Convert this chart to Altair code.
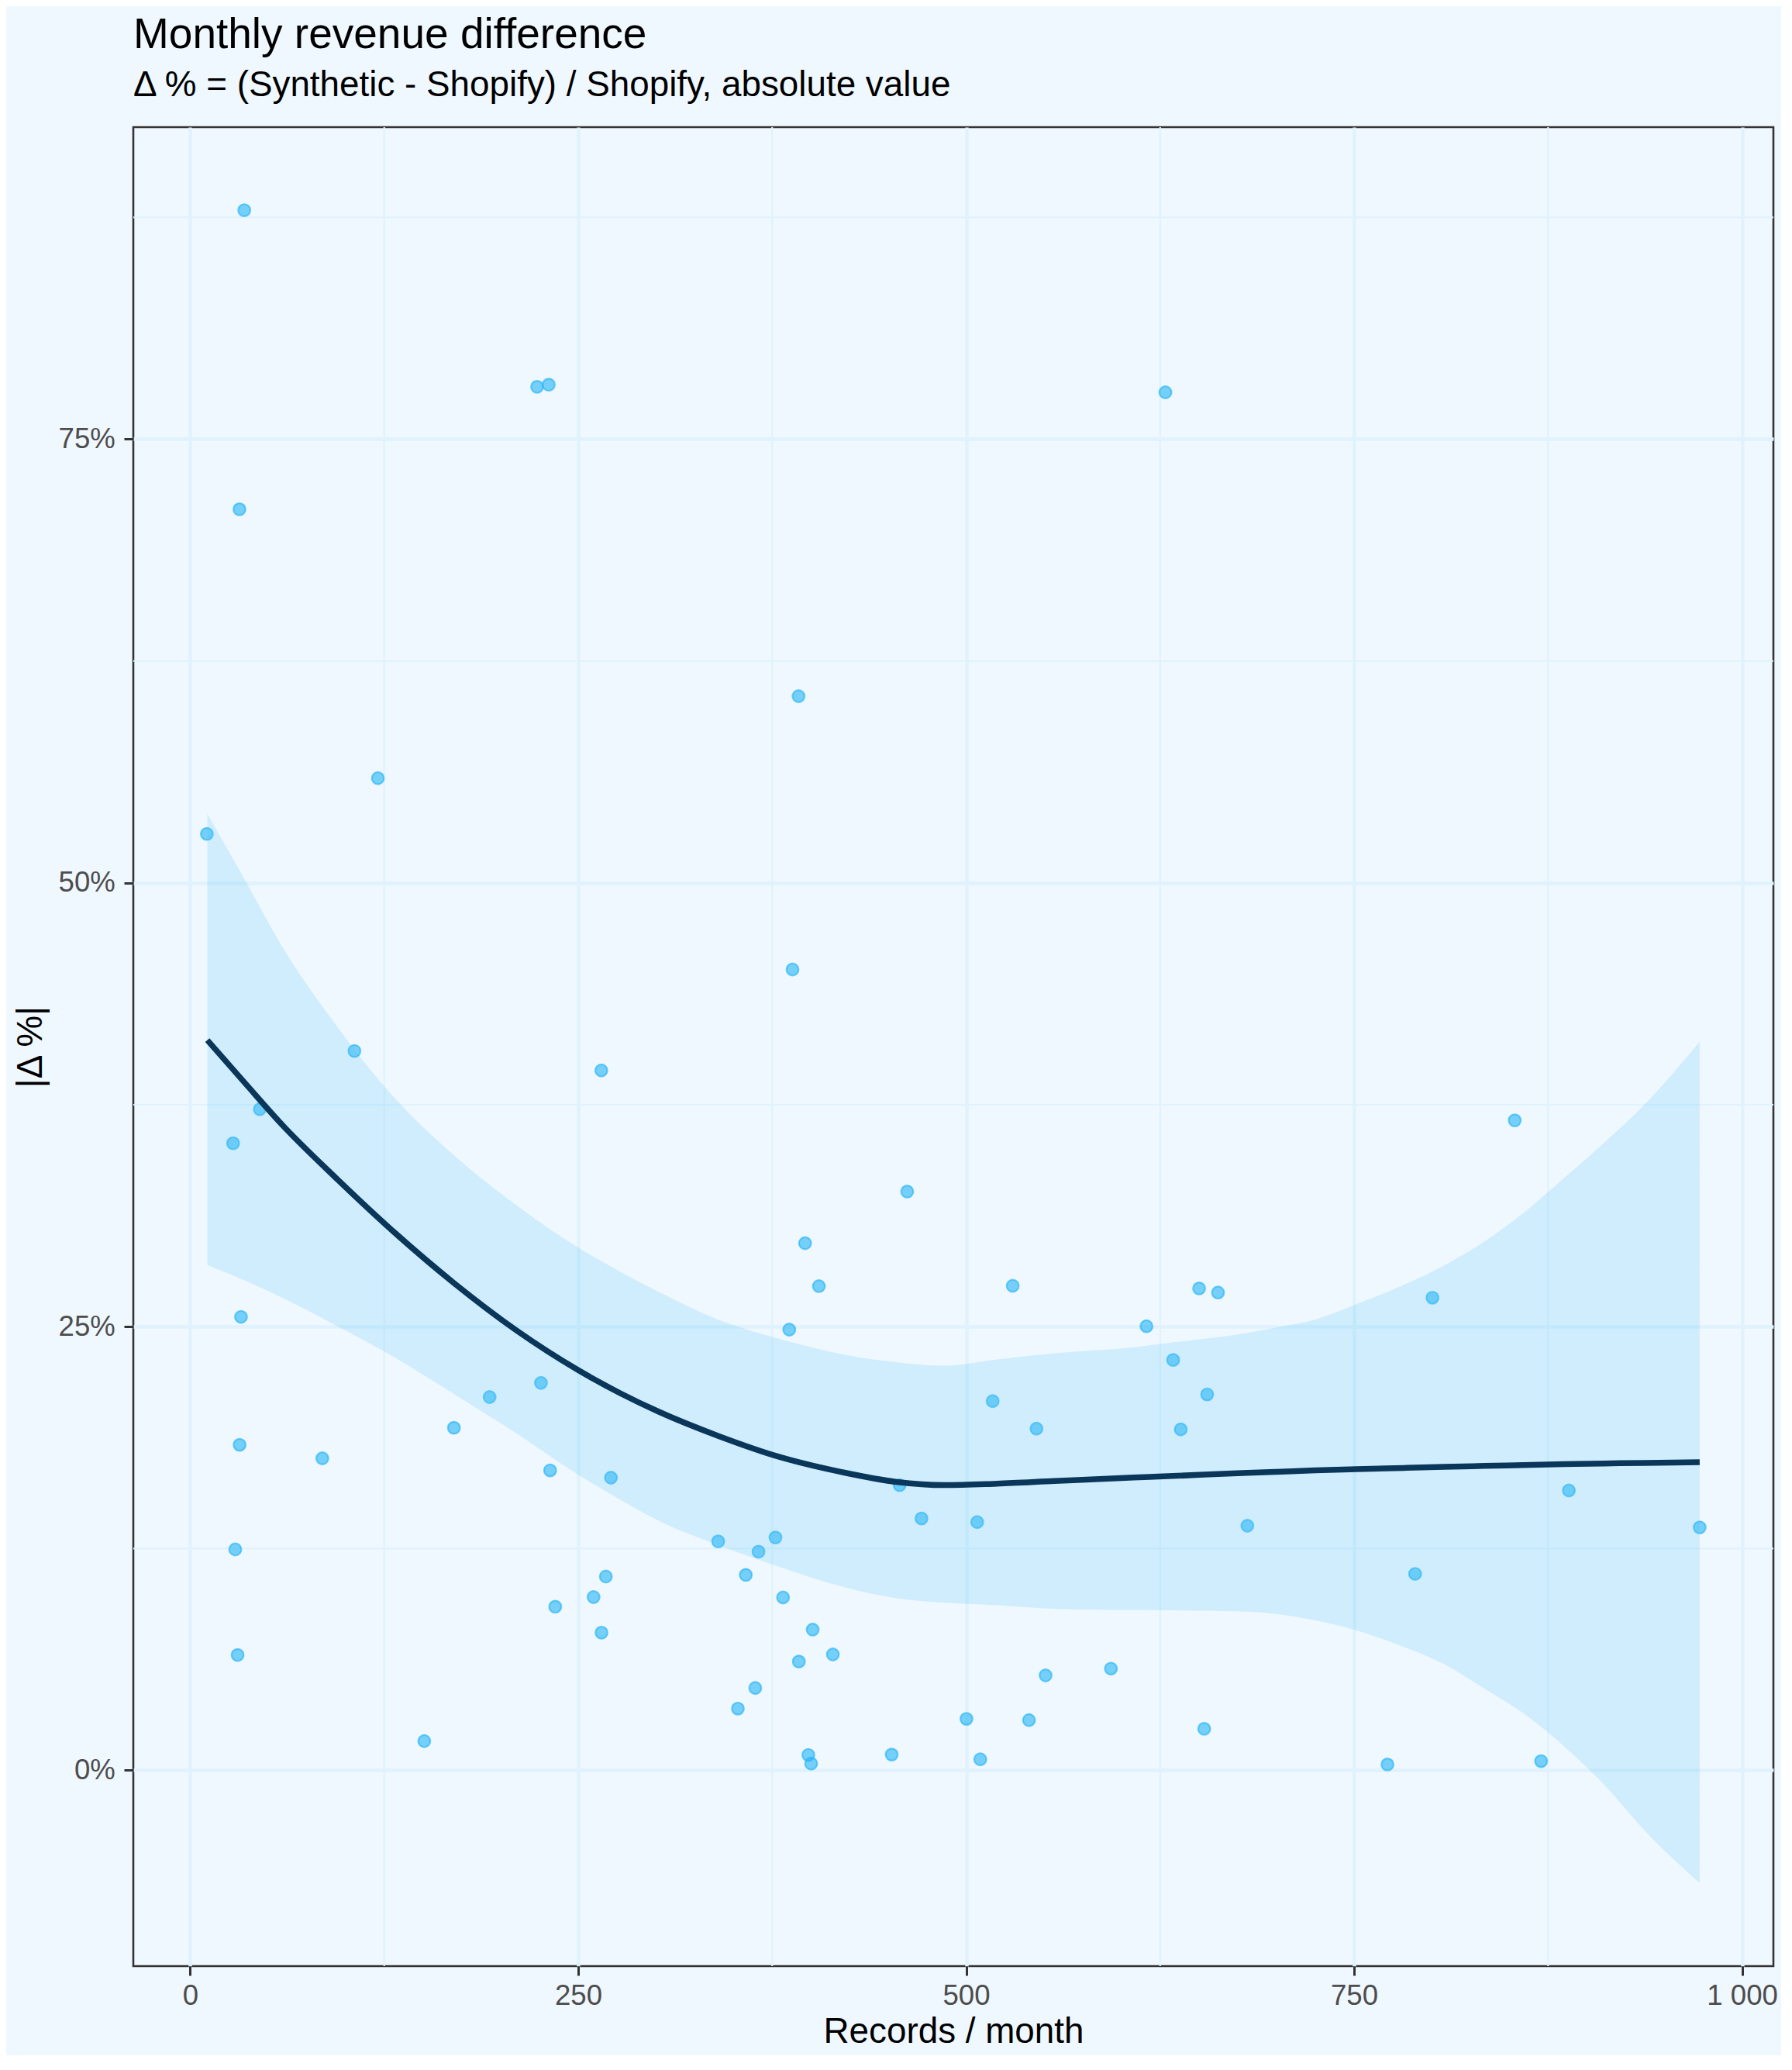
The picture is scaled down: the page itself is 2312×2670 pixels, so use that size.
import altair as alt
import pandas as pd

# ---- data ----
pt_x = [34.8, 223.5, 231.0, 628.4, 31.7, 392.0, 120.9, 388.1, 105.8, 264.9, 462.0,
        10.7, 44.8, 27.6, 396.2, 405.1, 386.0, 32.7,
        853.5, 650.1, 662.3, 800.5, 633.4, 655.3, 638.3, 888.4, 681.2, 972.7, 789.3,
        530.0,
        616.2, 517.1, 545.3, 457.1, 471.2, 507.1, 340.2, 377.1, 366.2, 358.0, 382.0,
        401.1, 414.1, 392.2, 364.1, 352.9, 398.3, 400.1, 452.0, 509.1, 500.2, 540.5,
        551.2, 593.3, 653.4,
        31.8, 85.1, 29.0, 30.5, 150.8, 169.9, 192.9, 226.0, 231.9, 271.1, 267.8,
        259.9, 235.2, 265.0,
        771.5, 870.5]
pt_y = [87.9, 77.95, 78.07, 77.64, 71.05, 60.52, 55.9, 45.12, 40.53, 39.43, 32.61,
        52.76, 37.25, 35.33, 29.7, 27.28, 24.83, 25.55,
        36.62, 27.15, 26.92, 26.63, 23.12, 21.18, 19.21, 15.77, 13.78, 13.69, 11.07,
        27.3,
        25.02, 20.8, 19.25, 16.07, 14.19, 13.99, 12.9, 13.12, 12.32, 11.01, 9.74,
        7.93, 6.53, 6.13, 4.64, 3.48, 0.87, 0.38, 0.89, 0.62, 2.9, 2.83,
        5.35, 5.73, 2.34,
        18.34, 17.58, 12.45, 6.5, 1.65, 19.3, 21.03, 21.83, 16.9, 16.49, 10.92,
        9.76, 9.22, 7.76,
        0.33, 0.52]

# smoother curve and its band
fit_x = [11.0, 35, 60, 93, 131, 170, 210, 250, 277, 302, 340, 380, 420, 455,
         486, 520, 557, 608, 627, 678, 700, 725, 751, 782, 808, 834, 859, 885,
         911, 937, 972.7]
fit_y = [41.14, 38.75, 36.3, 33.45, 30.35, 27.45, 24.8, 22.55, 21.25, 20.2, 18.85,
         17.65, 16.8, 16.25, 16.07, 16.15, 16.3, 16.5, 16.56, 16.75, 16.82, 16.9,
         16.97, 17.04, 17.1, 17.15, 17.2, 17.25, 17.29, 17.32, 17.36]
fit_lo = [28.47, 27.6, 26.6, 25.1, 23.3, 21.2, 19.0, 16.65, 15.25, 14.05, 12.7,
          11.45, 10.35, 9.7, 9.45, 9.3, 9.1, 9.03, 9.02, 8.95, 8.8, 8.45,
          7.9, 6.95, 5.98, 4.6, 3.22, 1.38, -0.8, -3.37, -6.35]
fit_hi = [53.9, 50.2, 46.3, 42.1, 37.95, 34.65, 31.85, 29.45, 28.1, 26.95, 25.4,
          24.3, 23.45, 23.0, 22.8, 23.15, 23.5, 23.84, 24.05, 24.6, 24.95, 25.4,
          26.25, 27.35, 28.45, 29.8, 31.4, 33.35, 35.35, 37.5, 41.06]

x_major = [0, 250, 500, 750, 1000]
x_minor = [125, 375, 625, 875]
y_major = [0, 25, 50, 75]
y_minor = [12.5, 37.5, 62.5, 87.5]

BG = "#F0F8FF"
GRID = "#DFF2FD"
PT = "#29B6F6"
RIB = "#4FC3F7"
NAVY = "#0A365A"
FONT = "Liberation Sans"

points_df = pd.DataFrame({"x": pt_x, "y": pt_y})
fit_df = pd.DataFrame({"x": fit_x, "fit": fit_y, "lo": fit_lo, "hi": fit_hi})

xs = alt.Scale(domain=[-36.7, 1020.2], nice=False, zero=False)
ys = alt.Scale(domain=[-11.03, 92.58], nice=False, zero=False)

xaxis = alt.Axis(values=x_major, title="Records / month",
                 labelExpr="replace(format(datum.value, ','), ',', ' ')")
yaxis = alt.Axis(values=y_major, title="|Δ %|", labelExpr="datum.value + '%'")

minor_x = alt.Chart(pd.DataFrame({"v": x_minor})).mark_rule(
    color=GRID, strokeWidth=2.2).encode(x=alt.X("v:Q", scale=xs, axis=xaxis))
minor_y = alt.Chart(pd.DataFrame({"v": y_minor})).mark_rule(
    color=GRID, strokeWidth=2.2).encode(y=alt.Y("v:Q", scale=ys, axis=yaxis))

points = alt.Chart(points_df).mark_circle(
    size=245, fill=PT, stroke=PT, strokeWidth=2.2, fillOpacity=0.62, strokeOpacity=0.65
).encode(
    x=alt.X("x:Q", scale=xs, axis=xaxis),
    y=alt.Y("y:Q", scale=ys, axis=yaxis),
)

ribbon = alt.Chart(fit_df).mark_area(color=RIB, opacity=0.2, interpolate="monotone").encode(
    x=alt.X("x:Q", scale=xs, axis=xaxis),
    y=alt.Y("lo:Q", scale=ys, axis=yaxis),
    y2="hi:Q",
)

line = alt.Chart(fit_df).mark_line(color=NAVY, strokeWidth=7.5, interpolate="monotone").encode(
    x=alt.X("x:Q", scale=xs, axis=xaxis),
    y=alt.Y("fit:Q", scale=ys, axis=yaxis),
)

chart = alt.layer(minor_x, minor_y, points, ribbon, line).properties(
    width=2116,
    height=2372,
    autosize=alt.AutoSizeParams(type="none"),
    padding={"left": 164, "top": 156, "right": 10, "bottom": 115},
    title=alt.TitleParams(
        text="Monthly revenue difference",
        subtitle="Δ % = (Synthetic - Shopify) / Shopify, absolute value",
        anchor="start", frame="group",
        font=FONT, subtitleFont=FONT,
        fontSize=55, subtitleFontSize=45.8,
        fontWeight="normal", subtitleFontWeight="normal",
        color="black", subtitleColor="black",
        offset=29, subtitlePadding=14,
    ),
).configure(
    background=BG, font=FONT,
).configure_view(
    stroke="#333333", strokeWidth=2.6, fill=BG,
).configure_axis(
    domain=False, grid=True, gridColor=GRID, gridWidth=4.4,
    tickColor="#333333", tickWidth=3, tickSize=12,
    labelFont=FONT, labelFontSize=36.6, labelColor="#4D4D4D", labelFlush=False,
    titleFont=FONT, titleFontSize=45.8, titleFontWeight="normal", titleColor="black",
).configure_axisX(
    labelPadding=8, titlePadding=6,
).configure_axisY(
    labelPadding=11.7, titlePadding=12,
)

chart.save("out.html", embed_options={"renderer": "svg", "actions": False})
